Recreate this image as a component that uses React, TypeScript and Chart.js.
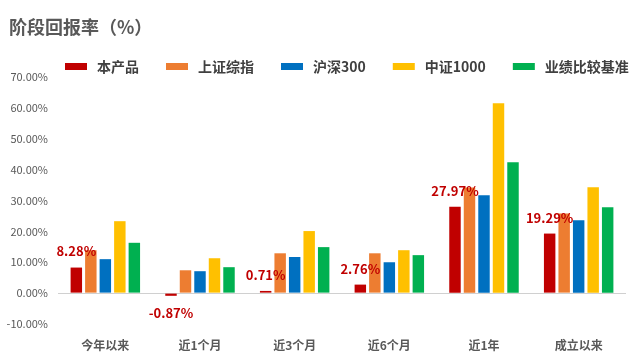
import React, { useEffect, useRef } from "react";
import { Chart, registerables } from "chart.js";

Chart.register(...registerables);

const categories = ["今年以来", "近1个月", "近3个月", "近6个月", "近1年", "成立以来"];
const seriesNames = ["本产品", "上证综指", "沪深300", "中证1000", "业绩比较基准"];
const product = [8.28, -0.87, 0.71, 2.76, 27.97, 19.29];
const shIndex = [13.9, 7.4, 12.9, 12.9, 34.2, 25.8];
const hs300 = [11.0, 7.1, 11.7, 10.0, 31.7, 23.6];
const zz1000 = [23.3, 11.3, 20.1, 13.9, 61.5, 34.3];
const benchmark = [16.3, 8.4, 14.9, 12.3, 42.4, 27.8];
const colors = ["#C00000", "#ED7D31", "#0070C0", "#FFC000", "#00B050"];
const yTicks = { min: -10, max: 70, step: 10 };
const title = "阶段回报率（%）";

const FONT = "'Noto Sans CJK SC', 'Microsoft YaHei', sans-serif";

const headerPlugin = {
  id: "header",
  afterDraw(chart: any) {
    const ctx = chart.ctx;
    ctx.save();
    ctx.fillStyle = "#595959";
    ctx.font = `bold 18px ${FONT}`;
    ctx.textBaseline = "middle";
    ctx.textAlign = "left";
    ctx.fillText(title, 9, 27);

    ctx.font = `bold 14px ${FONT}`;
    let x = 65;
    const y = 67;
    chart.data.datasets.forEach((ds: any) => {
      ctx.fillStyle = ds.backgroundColor;
      ctx.fillRect(x, y - 4, 22, 7);
      ctx.fillStyle = "#404040";
      ctx.fillText(ds.label, x + 32, y);
      x += 32 + ctx.measureText(ds.label).width + 27;
    });
    ctx.restore();
  },
};

const valueLabelPlugin = {
  id: "valueLabels",
  afterDatasetsDraw(chart: any) {
    const ctx = chart.ctx;
    const meta = chart.getDatasetMeta(0);
    const data = chart.data.datasets[0].data;
    ctx.save();
    ctx.fillStyle = "#C00000";
    ctx.font = `bold 13px ${FONT}`;
    ctx.textAlign = "center";
    ctx.textBaseline = "middle";
    meta.data.forEach((bar: any, i: number) => {
      const v = data[i];
      const txt = v.toFixed(2) + "%";
      const y = v >= 0 ? Math.min(bar.y, bar.base) - 16 : Math.max(bar.y, bar.base) + 17;
      ctx.fillText(txt, bar.x, y);
    });
    ctx.restore();
  },
};

export default function App() {
  const ref = useRef<HTMLCanvasElement>(null);
  useEffect(() => {
    const series = [product, shIndex, hs300, zz1000, benchmark];
    const chart = new Chart(ref.current!, {
      type: "bar",
      data: {
        labels: categories,
        datasets: series.map((d, i) => ({
          label: seriesNames[i],
          data: d,
          backgroundColor: colors[i],
          borderWidth: 0,
          categoryPercentage: 0.766,
          barPercentage: 0.79,
        })),
      },
      options: {
        animation: false,
        responsive: false,
        layout: { padding: { top: 77, left: 0, right: 14, bottom: 0 } },
        plugins: {
          legend: { display: false },
          title: { display: false },
          tooltip: { enabled: false },
        },
        scales: {
          x: {
            grid: { display: false, drawTicks: false },
            border: { display: false },
            ticks: {
              color: "#595959",
              font: { family: FONT, size: 12, weight: "bold" },
              padding: 14,
            },
            afterFit(scale: any) {
              scale.height = 37;
            },
          },
          y: {
            min: yTicks.min,
            max: yTicks.max,
            border: { display: false },
            grid: {
              drawTicks: false,
              color: (c: any) => (c.tick && c.tick.value === 0 ? "#D0D0D0" : "rgba(0,0,0,0)"),
              lineWidth: 1,
            },
            ticks: {
              stepSize: yTicks.step,
              color: "#595959",
              font: { family: FONT, size: 11 },
              padding: 10,
              callback: (v: any) => Number(v).toFixed(2) + "%",
            },
            afterFit(scale: any) {
              scale.width = 58;
            },
          },
        },
      },
      plugins: [headerPlugin, valueLabelPlugin],
    } as any);
    return () => chart.destroy();
  }, []);
  return (
    <div style={{ position: "absolute", left: 0, top: 0, width: 640, height: 361, background: "#fff" }}>
      <canvas ref={ref} width={640} height={361} />
    </div>
  );
}
